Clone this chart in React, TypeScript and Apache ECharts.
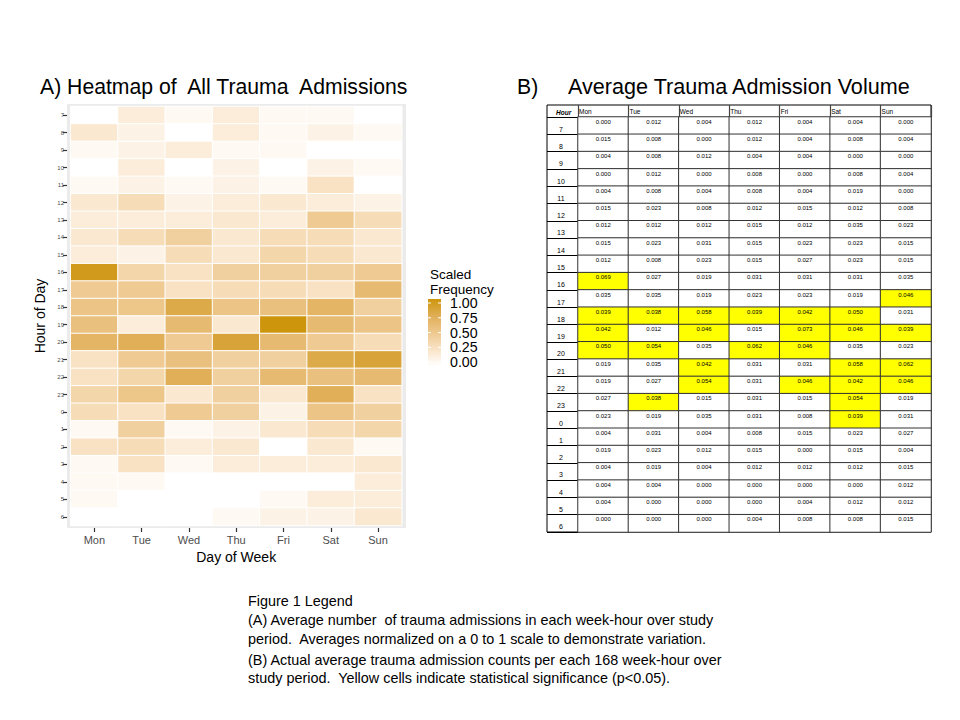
import React, { useEffect, useRef } from 'react';
import * as echarts from 'echarts';

const days = ['Mon', 'Tue', 'Wed', 'Thu', 'Fri', 'Sat', 'Sun'];
const hours = ['7', '8', '9', '10', '11', '12', '13', '14', '15', '16', '17', '18', '19', '20', '21', '22', '23', '0', '1', '2', '3', '4', '5', '6'];

// Average admissions per week-hour (hour order as in `hours`)
const mon = [0.000, 0.015, 0.004, 0.000, 0.004, 0.015, 0.012, 0.015, 0.012, 0.069, 0.035, 0.039, 0.042, 0.050, 0.019, 0.019, 0.027, 0.023, 0.004, 0.019, 0.004, 0.004, 0.004, 0.000];
const tue = [0.012, 0.008, 0.008, 0.012, 0.008, 0.023, 0.012, 0.023, 0.008, 0.027, 0.035, 0.038, 0.012, 0.054, 0.035, 0.027, 0.038, 0.019, 0.031, 0.023, 0.019, 0.004, 0.000, 0.000];
const wed = [0.004, 0.000, 0.012, 0.000, 0.004, 0.008, 0.012, 0.031, 0.023, 0.019, 0.019, 0.058, 0.046, 0.035, 0.042, 0.054, 0.015, 0.035, 0.004, 0.012, 0.004, 0.000, 0.000, 0.000];
const thu = [0.012, 0.012, 0.004, 0.008, 0.008, 0.012, 0.015, 0.015, 0.015, 0.031, 0.023, 0.039, 0.015, 0.062, 0.031, 0.031, 0.031, 0.031, 0.008, 0.015, 0.012, 0.000, 0.000, 0.004];
const fri = [0.004, 0.004, 0.004, 0.000, 0.004, 0.015, 0.012, 0.023, 0.027, 0.031, 0.023, 0.042, 0.073, 0.046, 0.031, 0.046, 0.015, 0.008, 0.015, 0.000, 0.012, 0.000, 0.004, 0.008];
const sat = [0.004, 0.008, 0.000, 0.008, 0.019, 0.012, 0.035, 0.023, 0.023, 0.031, 0.019, 0.050, 0.046, 0.035, 0.058, 0.042, 0.054, 0.039, 0.023, 0.015, 0.012, 0.000, 0.012, 0.008];
const sun = [0.000, 0.004, 0.000, 0.004, 0.000, 0.008, 0.023, 0.015, 0.015, 0.035, 0.046, 0.031, 0.039, 0.023, 0.062, 0.046, 0.019, 0.031, 0.027, 0.004, 0.015, 0.012, 0.012, 0.015];
const dayValues = [mon, tue, wed, thu, fri, sat, sun];

// Statistically significant cells (yellow)
const significant: [string, string][] = [
  ['Mon', '16'], ['Sun', '17'],
  ['Mon', '18'], ['Tue', '18'], ['Wed', '18'], ['Thu', '18'], ['Fri', '18'], ['Sat', '18'],
  ['Mon', '19'], ['Wed', '19'], ['Fri', '19'], ['Sat', '19'], ['Sun', '19'],
  ['Mon', '20'], ['Tue', '20'], ['Thu', '20'], ['Fri', '20'],
  ['Wed', '21'], ['Sat', '21'], ['Sun', '21'],
  ['Wed', '22'], ['Fri', '22'], ['Sat', '22'], ['Sun', '22'],
  ['Tue', '23'], ['Sat', '23'],
  ['Sat', '0'],
];

const legendTicks = ['1.00', '0.75', '0.50', '0.25', '0.00'];
const heatColors = ['#FFFFFF', '#F9E3C6', '#EEC88E', '#DFAE56', '#CD950C'];

const captionLines = [
  'Figure 1 Legend',
  '(A) Average number  of trauma admissions in each week-hour over study',
  'period.  Averages normalized on a 0 to 1 scale to demonstrate variation.',
  '(B) Actual average trauma admission counts per each 168 week-hour over',
  'study period.  Yellow cells indicate statistical significance (p<0.05).',
];

const FONT = '"Liberation Sans", Arial, Helvetica, sans-serif';

export default function App() {
  const ref = useRef<HTMLDivElement>(null);

  useEffect(() => {
    const chart = echarts.init(ref.current!, null, { renderer: 'svg' });
    const maxV = Math.max(...dayValues.flat());
    const heatData: number[][] = [];
    const tableData: number[][] = [];
    dayValues.forEach((vals, d) => {
      vals.forEach((v, h) => {
        heatData.push([d, h, v / maxV]);
        const sig = significant.some(([sd, sh]) => sd === days[d] && sh === hours[h]) ? 1 : 0;
        tableData.push([d, h, v, sig]);
      });
    });

    const graphics: any[] = [
      { type: 'rect', z: -10, shape: { x: 67, y: 104, width: 339, height: 424 }, style: { fill: '#EBEBEB' } },
      { type: 'text', x: 40, y: 86, style: { text: 'A) Heatmap of  All Trauma  Admissions', fontSize: 21.2, fontFamily: FONT, fill: '#000', verticalAlign: 'middle' } },
      { type: 'text', x: 517, y: 86, style: { text: 'B)', fontSize: 21.2, fontFamily: FONT, fill: '#000', verticalAlign: 'middle' } },
      { type: 'text', x: 568, y: 86, style: { text: 'Average Trauma Admission Volume', fontSize: 21.6, fontFamily: FONT, fill: '#000', verticalAlign: 'middle' } },
      { type: 'text', x: 430, y: 274, style: { text: 'Scaled', fontSize: 13.5, fontFamily: FONT, fill: '#000', verticalAlign: 'middle' } },
      { type: 'text', x: 430, y: 289, style: { text: 'Frequency', fontSize: 13.5, fontFamily: FONT, fill: '#000', verticalAlign: 'middle' } },
      {
        type: 'rect', shape: { x: 428, y: 299, width: 13, height: 67 },
        style: {
          fill: new echarts.graphic.LinearGradient(0, 0, 0, 1,
            heatColors.slice().reverse().map((c, i) => ({ offset: i / (heatColors.length - 1), color: c }))),
        },
      },
      { type: 'rect', shape: { x: 547, y: 105, width: 384, height: 427 }, style: { fill: 'none', stroke: '#000', lineWidth: 1 } },
      { type: 'text', x: 556, y: 112, style: { text: 'Hour', fontSize: 6.5, fontStyle: 'italic', fontWeight: 'bold', fontFamily: FONT, fill: '#000', verticalAlign: 'middle' } },
    ];
    legendTicks.forEach((t, i) => {
      const y = 303 + i * 14.8;
      graphics.push({ type: 'text', x: 450, y, style: { text: t, fontSize: 14.2, lineHeight: 14, fontFamily: FONT, fill: '#000', verticalAlign: 'middle' } });
      graphics.push({ type: 'line', shape: { x1: 428, y1: y, x2: 431, y2: y }, style: { stroke: '#fff', lineWidth: 1 } });
      graphics.push({ type: 'line', shape: { x1: 438, y1: y, x2: 441, y2: y }, style: { stroke: '#fff', lineWidth: 1 } });
    });
    captionLines.forEach((line, i) => {
      const y = [601, 620, 639, 660, 678][i];
      graphics.push({ type: 'text', x: 248, y, style: { text: line, fontSize: 14.4, fontFamily: FONT, fill: '#000', verticalAlign: 'middle' } });
    });

    chart.setOption({
      animation: false,
      backgroundColor: '#fff',
      textStyle: { fontFamily: FONT },
      grid: [
        { left: 70.7, top: 106.5, width: 331, height: 419 },
        { left: 578, top: 117, width: 353, height: 415 },
      ],
      xAxis: [
        {
          gridIndex: 0, type: 'category', data: days, position: 'bottom', offset: 2.5,
          axisLine: { show: false },
          axisTick: { show: true, alignWithLabel: true, length: 4, lineStyle: { color: '#333', width: 1.2 } },
          axisLabel: { fontSize: 11, color: '#4D4D4D', margin: 6, interval: 0 },
          splitLine: { show: false },
          name: 'Day of Week', nameLocation: 'middle', nameGap: 22,
          nameTextStyle: { fontSize: 14, color: '#000' },
        },
        { gridIndex: 1, type: 'category', data: days, show: false },
        {
          gridIndex: 1, type: 'category', data: [...days, ''], boundaryGap: false, position: 'top',
          axisLine: { show: true, lineStyle: { color: '#000', width: 1 } },
          axisTick: { show: true, length: 12, interval: 0, lineStyle: { color: '#444', width: 1.2 } },
          axisLabel: { interval: 0, align: 'left', margin: 2, fontSize: 6.5, color: '#000', padding: [0, 0, 0, 1] },
          splitLine: { show: false },
        },
      ],
      yAxis: [
        {
          gridIndex: 0, type: 'category', data: hours, inverse: true, offset: 3.7,
          axisLine: { show: false },
          axisTick: { show: true, alignWithLabel: true, interval: 0, length: 4, lineStyle: { color: '#333', width: 1.2 } },
          axisLabel: { fontSize: 6, color: '#4D4D4D', margin: 3, interval: 0 },
          splitLine: { show: false },
          name: 'Hour of Day', nameLocation: 'middle', nameGap: 20, nameRotate: 90,
          nameTextStyle: { fontSize: 14, color: '#000' },
        },
        {
          gridIndex: 1, type: 'category', data: hours, inverse: true,
          axisLine: { show: true, lineStyle: { color: '#000', width: 1 } },
          axisTick: { show: true, length: 31, interval: 0, lineStyle: { color: '#000', width: 1 } },
          axisLabel: { interval: 0, align: 'center', verticalAlign: 'top', margin: 17, fontSize: 7, color: '#000' },
          splitLine: { show: false },
        },
      ],
      visualMap: [
        { type: 'continuous', show: false, seriesIndex: 0, dimension: 2, min: 0, max: 1, inRange: { color: heatColors } },
        {
          type: 'piecewise', show: false, seriesIndex: 1, dimension: 3,
          pieces: [{ value: 1, color: '#FFFF00' }, { value: 0, color: '#FFFFFF' }],
        },
      ],
      series: [
        {
          type: 'heatmap', xAxisIndex: 0, yAxisIndex: 0, data: heatData,
          itemStyle: { borderColor: '#fff', borderWidth: 1 },
          emphasis: { disabled: true },
        },
        {
          type: 'heatmap', xAxisIndex: 1, yAxisIndex: 1, data: tableData,
          itemStyle: { borderColor: '#333', borderWidth: 1 },
          label: {
            show: true, fontSize: 6, color: '#000', offset: [0, -4],
            formatter: (p: any) => Number(p.value[2]).toFixed(3),
          },
          emphasis: { disabled: true },
        },
      ],
      graphic: graphics,
    });

    return () => chart.dispose();
  }, []);

  return <div ref={ref} style={{ position: 'absolute', left: 0, top: 0, width: 960, height: 720 }} />;
}
